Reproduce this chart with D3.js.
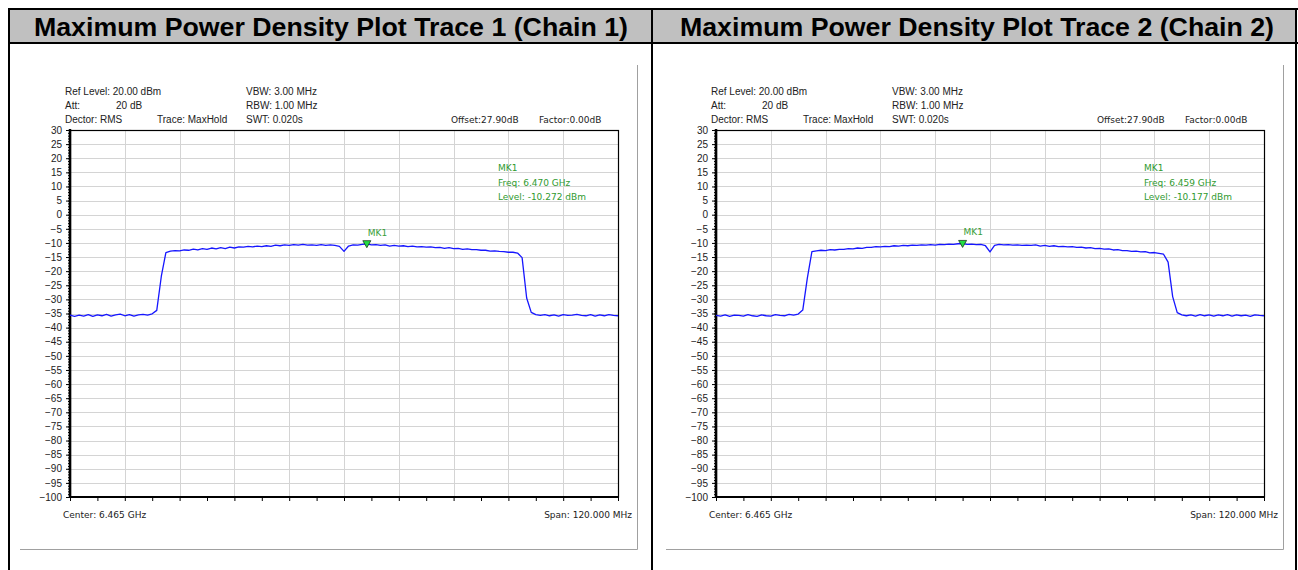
<!doctype html>
<html lang="en">
<head>
<meta charset="utf-8">
<title>Maximum Power Density Plot</title>
<script src="https://cdn.jsdelivr.net/npm/d3@7"></script>
<style>
  body { margin: 0; background: #fff; }
  svg { display: block; }
</style>
</head>
<body>
<script>
// ---- data ----
const titles = ["Maximum Power Density Plot Trace 1 (Chain 1)", "Maximum Power Density Plot Trace 2 (Chain 2)"];
const centerGHz = 6.465;
const spanMHz = 120;

// sweep points, MHz from center
const freqOffsetMHz = [
  -60, -59, -58, -57, -56, -55, -54, -53, -52, -51, -50, -49, -48, -47, -46, -45, -44, -43, -42, -41,
  -40, -39, -38, -37, -36, -35, -34, -33, -32, -31, -30, -29, -28, -27, -26, -25, -24, -23, -22, -21,
  -20, -19, -18, -17, -16, -15, -14, -13, -12, -11, -10, -9, -8, -7, -6, -5, -4, -3, -2, -1,
  0, 1, 2, 3, 4, 5, 6, 7, 8, 9, 10, 11, 12, 13, 14, 15, 16, 17, 18, 19,
  20, 21, 22, 23, 24, 25, 26, 27, 28, 29, 30, 31, 32, 33, 34, 35, 36, 37, 38, 39,
  40, 41, 42, 43, 44, 45, 46, 47, 48, 49, 50, 51, 52, 53, 54, 55, 56, 57, 58, 59, 60
];

// dBm, trace 1 (chain 1)
const trace1 = [
  -35.6, -36.0, -35.6, -35.9, -35.4, -36.0, -35.5, -35.8, -35.3, -35.9, -35.5, -35.2, -35.8, -35.4, -35.9, -35.5, -35.3, -35.6,
  -35.1, -33.9, -21.8, -13.4, -12.9,
  -12.7, -12.8, -12.5, -12.6, -12.2, -12.5, -12.0, -12.3, -11.8, -12.1, -11.7, -12.0, -11.5, -11.8, -11.4, -11.5, -11.2, -11.4,
  -11.1, -11.3, -11.0, -11.2, -10.8, -11.0, -10.7, -10.9, -10.6, -10.8, -10.5, -10.8, -10.7, -10.9, -10.6, -10.9, -10.7, -10.9, -11.2,
  -13.0,
  -11.1, -10.7, -10.8, -10.5, -10.3, -10.7, -10.6, -10.9, -10.7, -11.1, -10.9, -11.1, -11.0, -11.3, -11.1, -11.4, -11.3, -11.5, -11.4,
  -11.7, -11.6, -11.9, -11.7, -12.0, -11.9, -12.3, -12.1, -12.4, -12.4, -12.6, -12.6, -12.9, -12.8, -13.0, -13.1, -13.3, -13.3, -13.6,
  -15.2, -29.5, -34.6, -35.4,
  -35.7, -35.4, -35.8, -35.5, -35.9, -35.4, -35.7, -35.6, -35.3, -35.7, -35.8, -35.4, -35.9, -35.5, -35.8, -35.4, -35.7, -35.8
];

// dBm, trace 2 (chain 2)
const trace2 = [
  -35.7, -35.9, -35.5, -36.0, -35.6, -35.7, -35.9, -35.4, -35.8, -36.0, -35.5, -35.8, -35.9, -35.4, -35.7, -35.8, -35.3, -35.6,
  -35.2, -33.8, -22.5, -13.1, -12.8,
  -12.6, -12.7, -12.4, -12.5, -12.3, -12.3, -12.0, -12.1, -11.8, -11.9, -11.6, -11.6, -11.3, -11.4, -11.2, -11.3, -11.0, -11.1,
  -10.9, -11.0, -10.8, -10.9, -10.7, -10.8, -10.6, -10.8, -10.5, -10.6, -10.4, -10.5, -10.3, -10.2, -10.5, -10.4, -10.6, -10.5, -11.0,
  -13.2,
  -10.9, -10.5, -10.7, -10.6, -10.8, -10.7, -10.9, -10.8, -10.9, -10.7, -11.1, -10.9, -11.2, -11.0, -11.3, -11.2, -11.4, -11.3, -11.6,
  -11.5, -11.8, -11.7, -12.0, -11.9, -12.2, -12.1, -12.5, -12.4, -12.7, -12.7, -13.0, -12.9, -13.2, -13.1, -13.5, -13.4, -13.7, -14.0,
  -16.8, -29.0, -34.7, -35.5,
  -35.8, -35.5, -35.9, -35.4, -35.8, -35.5, -35.9, -35.5, -35.8, -35.4, -35.9, -35.5, -35.8, -35.6, -36.0, -35.5, -35.7, -35.8
];

const markerFreqGHz = [6.470, 6.459];
const markerLevel = [-10.272, -10.177];
const markerName = "MK1";

const yTicks = [30, 25, 20, 15, 10, 5, 0, -5, -10, -15, -20, -25, -30, -35, -40, -45, -50, -55, -60, -65, -70, -75, -80, -85, -90, -95, -100];

const infoCol1 = ["Ref Level: 20.00 dBm", "Att:", "Dector: RMS"];
const attValue = "20 dB";
const traceMode = "Trace: MaxHold";
const infoCol3 = ["VBW: 3.00 MHz", "RBW: 1.00 MHz", "SWT: 0.020s"];
const offsetText = "Offset:27.90dB";
const factorText = "Factor:0.00dB";
const centerText = "Center: 6.465 GHz";
const spanText = "Span: 120.000 MHz";

// ---- drawing ----
const W = 1298, H = 570;
const svg = d3.select("body").append("svg").attr("width", W).attr("height", H);

// table frame with grey header row
svg.append("rect").attr("x", 9).attr("y", 9).attr("width", 1288).attr("height", 34).attr("fill", "#c0c0c0");
const black = [[8, 9, 1298, 9], [8, 43, 1298, 43], [9, 8, 9, 570], [652, 8, 652, 570], [1296, 8, 1296, 570]];
svg.selectAll("line.frame").data(black).enter().append("line")
  .attr("x1", d => d[0]).attr("y1", d => d[1]).attr("x2", d => d[2]).attr("y2", d => d[3])
  .attr("stroke", "#000").attr("stroke-width", 2);

const levels = [trace1, trace2];
const smallFont = "'DejaVu Sans', sans-serif";
const armFont = "'Liberation Sans', Arial, sans-serif";

function drawPanel(i, dx) {
  const g = svg.append("g").attr("transform", "translate(" + dx + ",0)");

  // title
  g.append("text")
    .attr("x", 331).attr("y", 36)
    .attr("text-anchor", "middle")
    .attr("font-family", armFont).attr("font-weight", "bold").attr("font-size", 25)
    .attr("textLength", 594).attr("lengthAdjust", "spacingAndGlyphs")
    .text(titles[i]);

  // screenshot edge (right + bottom)
  g.append("path").attr("d", "M20,549.5H637.5V65").attr("fill", "none").attr("stroke", "#a0a0a0").attr("stroke-width", 1);

  const x = d3.scaleLinear()
    .domain([centerGHz - spanMHz / 2000, centerGHz + spanMHz / 2000])
    .range([70, 618]);
  const y = d3.scaleLinear().domain([-100, 30]).range([497, 130]);

  // grid
  const xGrid = d3.range(0, 11).map(k => centerGHz - spanMHz / 2000 + k * spanMHz / 10000);
  g.append("g").selectAll("line").data(xGrid).enter().append("line")
    .attr("x1", d => Math.round(x(d)) + 0.5).attr("x2", d => Math.round(x(d)) + 0.5)
    .attr("y1", 130).attr("y2", 497).attr("stroke", "#d4d4d4");
  g.append("g").selectAll("line").data(yTicks).enter().append("line")
    .attr("y1", d => Math.round(y(d)) + 0.5).attr("y2", d => Math.round(y(d)) + 0.5)
    .attr("x1", 70).attr("x2", 618).attr("stroke", "#d4d4d4");

  // y axis: labels + dense minor ticks
  const yAxis = d3.axisLeft(y).tickValues(yTicks).tickSize(4).tickPadding(4);
  const ya = g.append("g").attr("transform", "translate(70,0)").call(yAxis);
  ya.select(".domain").remove();
  ya.selectAll("text").attr("font-family", armFont).attr("font-size", 10).attr("fill", "#222");
  ya.selectAll("line").attr("stroke", "#000");
  const yMinor = d3.axisLeft(y).ticks(130).tickSize(2).tickFormat("");
  const ym = g.append("g").attr("transform", "translate(70,0)").call(yMinor);
  ym.select(".domain").remove();
  ym.selectAll("line").attr("stroke", "#000");

  // x axis ticks below plot
  const xTicks = d3.range(0, 21).map(k => centerGHz - spanMHz / 2000 + k * spanMHz / 20000);
  const xAxis = d3.axisBottom(x).tickValues(xTicks).tickSize(4).tickFormat("");
  const xa = g.append("g").attr("transform", "translate(0,497)").call(xAxis);
  xa.select(".domain").remove();
  xa.selectAll("line").attr("stroke", "#000");

  // plot frame
  g.append("rect").attr("x", 70.5).attr("y", 130.5).attr("width", 548).attr("height", 366.5)
    .attr("fill", "none").attr("stroke", "#000").attr("stroke-width", 1.2);
  g.append("line").attr("x1", 70).attr("x2", 70).attr("y1", 129).attr("y2", 498).attr("stroke", "#000").attr("stroke-width", 2.5);
  g.append("line").attr("x1", 69).attr("x2", 619).attr("y1", 497).attr("y2", 497).attr("stroke", "#000").attr("stroke-width", 2);

  // trace
  const pts = freqOffsetMHz.map((f, k) => [centerGHz + f / 1000, levels[i][k]]);
  const line = d3.line().x(d => x(d[0])).y(d => y(d[1]));
  g.append("path").datum(pts).attr("d", line)
    .attr("fill", "none").attr("stroke", "#1616ff").attr("stroke-width", 1.3).attr("stroke-linejoin", "round");

  // marker
  const mx = x(markerFreqGHz[i]), my = y(markerLevel[i]);
  g.append("path")
    .attr("d", "M" + (mx - 4) + "," + (my - 3) + "H" + (mx + 4) + "L" + mx + "," + (my + 4) + "Z")
    .attr("fill", "#22dd44").attr("stroke", "#1a3a1a").attr("stroke-width", 0.8);
  g.append("text").attr("x", mx + 1).attr("y", my - 8)
    .attr("font-family", smallFont).attr("font-size", 9).attr("fill", "#3aa03a").text(markerName);

  // marker readout
  const readout = [markerName, "Freq: " + markerFreqGHz[i].toFixed(3) + " GHz", "Level: " + markerLevel[i].toFixed(3) + " dBm"];
  g.append("g").selectAll("text").data(readout).enter().append("text")
    .attr("x", 498).attr("y", (d, k) => 171 + k * 14.5)
    .attr("font-family", smallFont).attr("font-size", 9).attr("fill", "#2f9a2f").text(d => d);

  // settings text
  const info = g.append("g").attr("font-family", armFont).attr("font-size", 10).attr("fill", "#222");
  info.selectAll("text.c1").data(infoCol1).enter().append("text")
    .attr("x", 65).attr("y", (d, k) => 95 + k * 14).text(d => d);
  info.append("text").attr("x", 116).attr("y", 109).text(attValue);
  info.append("text").attr("x", 157).attr("y", 123).text(traceMode);
  info.selectAll("text.c3").data(infoCol3).enter().append("text")
    .attr("x", 246).attr("y", (d, k) => 95 + k * 14).text(d => d);

  const small = g.append("g").attr("font-family", smallFont).attr("font-size", 9).attr("fill", "#222");
  small.append("text").attr("x", 451).attr("y", 123).text(offsetText);
  small.append("text").attr("x", 539).attr("y", 123).text(factorText);
  small.append("text").attr("x", 63).attr("y", 518).text(centerText);
  small.append("text").attr("x", 632).attr("y", 518).attr("text-anchor", "end").text(spanText);
}

drawPanel(0, 0);
drawPanel(1, 646);
</script>
</body>
</html>
